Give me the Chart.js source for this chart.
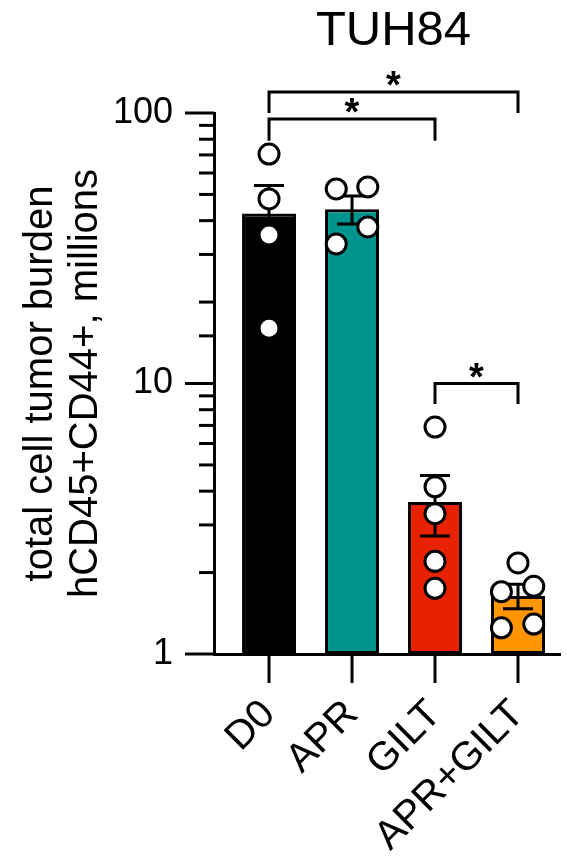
<!DOCTYPE html>
<html>
<head>
<meta charset="utf-8">
<script src="https://cdn.jsdelivr.net/npm/chart.js@4.4.1/dist/chart.umd.min.js"></script>
<style>
  html, body { margin: 0; padding: 0; background: #ffffff; }
  #wrap { width: 567px; height: 862px; }
</style>
</head>
<body>
<div id="wrap"><canvas id="chart" width="567" height="862"></canvas></div>
<script>
// Treatment groups and per-mouse tumor burden (hCD45+CD44+ cells, millions)
const chartTitle = 'TUH84';
const groups = ['D0', 'APR', 'GILT', 'APR+GILT'];
const replicates = [
  [70.5, 48.1, 35.4, 16.0],
  [52.4, 53.3, 37.9, 32.8],
  [6.9, 4.15, 3.3, 2.2, 1.75],
  [2.17, 1.70, 1.78, 1.25, 1.29]
];
// Group mean and standard error of the mean
const groupMean = [42.5, 44.1, 3.65, 1.64];
const groupSem = [11.4, 5.2, 0.92, 0.17];
// Labelled decades on the log axis
const yTickLabels = [1, 10, 100];
// Pairwise significance marks
const comparisons = [
  { from: 0, to: 3, text: '*' },
  { from: 0, to: 2, text: '*' },
  { from: 2, to: 3, text: '*' }
];

// ---- layout / style ----
const barColors = ['#000000', '#00948F', '#E82200', '#FF9500'];
// horizontal spread (in group widths) for symbols that would overlap
const pointSpread = [
  [0, 0, 0, 0],
  [-0.19, 0.19, 0.19, -0.19],
  [0, 0, 0, 0, 0],
  [0, -0.2, 0.19, -0.2, 0.19]
];
// bracket heights in axis units: [bar line, bottom of legs]
const bracketLevels = [[119.6, 100], [95, 79], [10.0, 8.4]];
const FONT = "'Liberation Sans', Arial, Helvetica, sans-serif";
const INK = '#000000';
const LW = 3;

Chart.defaults.font.family = FONT;
Chart.defaults.color = INK;

const scatterData = [];
replicates.forEach((vals, g) => {
  vals.forEach((v, k) => scatterData.push({ x: g + pointSpread[g][k], y: v }));
});

const isDecade = v => yTickLabels.some(t => Math.abs(t - v) < 1e-9);

const drawExtras = {
  id: 'drawExtras',
  afterDatasetDraw(chart, args) {
    if (args.index !== 0) return;
    // SEM error bars, drawn over the bars and beneath the symbols
    const { ctx, scales: { x, y } } = chart;
    ctx.save();
    ctx.strokeStyle = INK;
    ctx.lineWidth = LW;
    ctx.lineCap = 'butt';
    groupMean.forEach((m, g) => {
      const cx = x.getPixelForValue(g);
      const yHi = y.getPixelForValue(m + groupSem[g]);
      const yLo = y.getPixelForValue(m - groupSem[g]);
      const half = 15;
      ctx.beginPath();
      ctx.moveTo(cx, yHi); ctx.lineTo(cx, yLo);
      ctx.moveTo(cx - half, yHi); ctx.lineTo(cx + half, yHi);
      ctx.moveTo(cx - half, yLo); ctx.lineTo(cx + half, yLo);
      ctx.stroke();
    });
    ctx.restore();
  },
  afterDraw(chart) {
    const { ctx, chartArea, scales: { x, y } } = chart;
    ctx.save();
    ctx.strokeStyle = INK;
    ctx.lineWidth = LW;
    ctx.lineCap = 'butt';
    // y tick marks: long at decades, short in between
    y.ticks.forEach(t => {
      const py = y.getPixelForValue(t.value);
      const len = isDecade(t.value) ? 29 : 15;
      ctx.beginPath();
      ctx.moveTo(chartArea.left - len, py);
      ctx.lineTo(chartArea.left, py);
      ctx.stroke();
    });
    // x tick marks under each group
    groups.forEach((g, i) => {
      const px = x.getPixelForValue(i);
      ctx.beginPath();
      ctx.moveTo(px, chartArea.bottom);
      ctx.lineTo(px, chartArea.bottom + 29);
      ctx.stroke();
    });
    // significance brackets
    ctx.fillStyle = INK;
    ctx.font = 'bold 38px ' + FONT;
    ctx.textAlign = 'center';
    ctx.textBaseline = 'alphabetic';
    comparisons.forEach((c, i) => {
      const [lineVal, legVal] = bracketLevels[i];
      const x1 = x.getPixelForValue(c.from);
      const x2 = x.getPixelForValue(c.to);
      const yl = y.getPixelForValue(lineVal);
      const yb = y.getPixelForValue(legVal);
      ctx.beginPath();
      ctx.moveTo(x1, yb);
      ctx.lineTo(x1, yl);
      ctx.lineTo(x2, yl);
      ctx.lineTo(x2, yb);
      ctx.stroke();
      ctx.fillText(c.text, (x1 + x2) / 2, yl + 6);
    });
    // chart title, centred over the groups
    ctx.font = '49px ' + FONT;
    const tx = (x.getPixelForValue(0) + x.getPixelForValue(groups.length - 1)) / 2;
    ctx.fillText(chartTitle, tx, 45);
    ctx.restore();
  }
};

new Chart(document.getElementById('chart'), {
  type: 'bar',
  data: {
    datasets: [
      {
        type: 'bar',
        order: 2,
        data: groupMean.map((m, g) => ({ x: g, y: m })),
        backgroundColor: barColors,
        borderColor: INK,
        borderWidth: LW,
        borderSkipped: false,
        barPercentage: 0.65,
        categoryPercentage: 1
      },
      {
        type: 'scatter',
        order: 1,
        data: scatterData,
        pointRadius: 10,
        pointHoverRadius: 10,
        pointBackgroundColor: '#ffffff',
        pointBorderColor: INK,
        pointBorderWidth: LW
      }
    ]
  },
  options: {
    responsive: false,
    animation: false,
    events: [],
    layout: { autoPadding: false, padding: { left: 0, right: 7, top: 113, bottom: 0 } },
    plugins: {
      legend: { display: false },
      tooltip: { enabled: false },
      title: { display: false }
    },
    scales: {
      x: {
        type: 'linear',
        offset: false,
        min: -0.663,
        max: 3.506,
        border: { display: true, width: LW, color: INK },
        grid: { display: false, drawTicks: false, offset: false },
        afterBuildTicks: s => { s.ticks = groups.map((g, i) => ({ value: i })); },
        ticks: {
          autoSkip: false,
          minRotation: 45,
          maxRotation: 45,
          padding: 37,
          color: INK,
          font: { size: 40 },
          callback: (v) => groups[Math.round(v)] ?? ''
        },
        afterFit: s => { s.height = 208; s.paddingLeft = 0; s.paddingRight = 0; }
      },
      y: {
        type: 'logarithmic',
        min: 1,
        max: 100,
        border: { display: true, width: LW, color: INK },
        grid: { display: false, drawTicks: false },
        ticks: {
          autoSkip: false,
          padding: 41,
          color: INK,
          font: { size: 36 },
          callback: v => isDecade(v) ? String(v) : ''
        },
        title: {
          display: true,
          text: ['total cell tumor burden', 'hCD45+CD44+, millions'],
          color: INK,
          font: { size: 40, lineHeight: 1.125 },
          padding: { top: 18, bottom: 0 }
        },
        afterFit: s => { s.width = 214; }
      }
    }
  },
  plugins: [drawExtras]
});
</script>
</body>
</html>
